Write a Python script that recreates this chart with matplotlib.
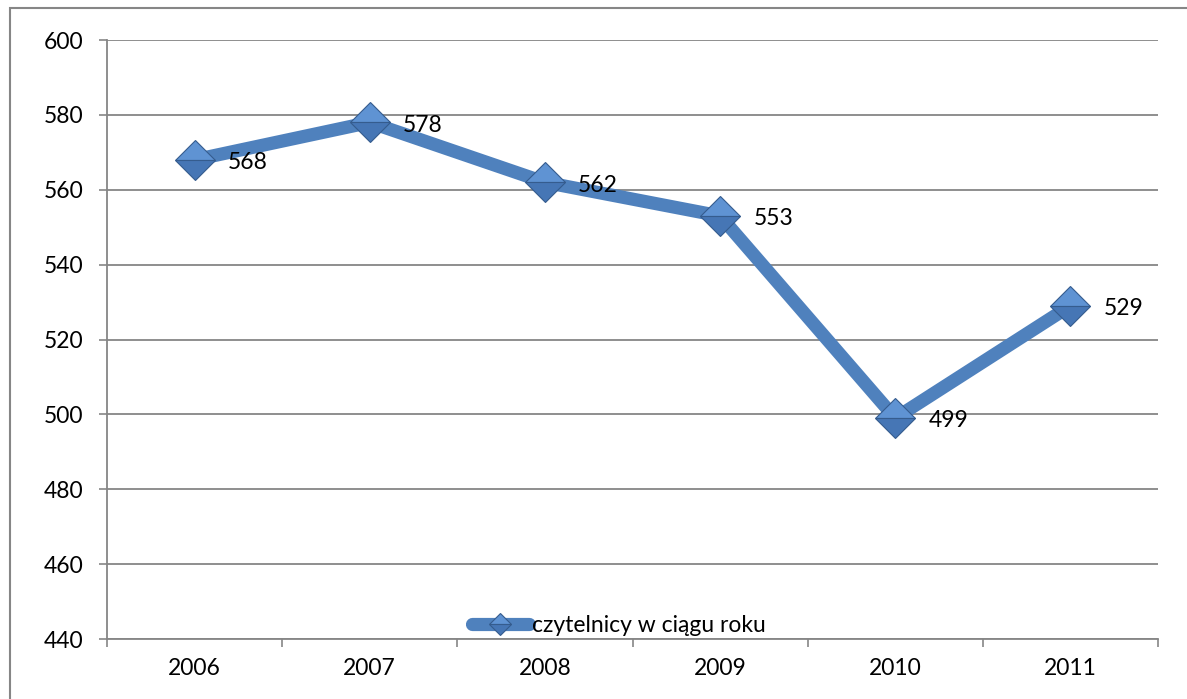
import matplotlib.pyplot as plt
from matplotlib.patches import Rectangle
from matplotlib.ticker import FixedLocator

years = ['2006', '2007', '2008', '2009', '2010', '2011']
readers = [568, 578, 562, 553, 499, 529]
y_ticks = [440, 460, 480, 500, 520, 540, 560, 580, 600]

plt.rcParams['font.family'] = ['Lato', 'DejaVu Sans']

fig = plt.figure(figsize=(11.87, 6.99), dpi=100)
ax = fig.add_axes([107 / 1187, 1 - 639 / 699, 1051 / 1187, 599 / 699])

grey = '#868686'
blue = '#4F81BD'
fs = 16.5

x = list(range(len(years)))
ax.plot(x, readers, color=blue, lw=9.5, solid_capstyle='round', zorder=3,
        marker='D', ms=20, fillstyle='top', markerfacecolor='#5F93D3',
        markerfacecoloralt='#4676B5', markeredgecolor='#355C8E', mew=0.8,
        label='czytelnicy w ciągu roku')

for xi, v in zip(x, readers):
    ax.annotate(str(v), (xi, v), xytext=(24, -2), textcoords='offset points',
                ha='left', va='center', fontsize=fs, zorder=4)

ax.set_xlim(-0.5, len(years) - 0.5)
ax.set_ylim(440, 600)
ax.set_yticks(y_ticks)
ax.set_xticks(x)
ax.set_xticklabels(years)
ax.xaxis.set_minor_locator(FixedLocator([i - 0.5 for i in range(len(years) + 1)]))
ax.tick_params(axis='x', which='major', length=0, pad=14, labelsize=fs)
ax.tick_params(axis='x', which='minor', length=6, width=1.2, color=grey,
               direction='out')
ax.tick_params(axis='y', length=6, width=1.2, color=grey, pad=11,
               labelsize=fs)

ax.grid(axis='y', color=grey, lw=1.3)
ax.set_axisbelow(True)
for side in ('top', 'right'):
    ax.spines[side].set_visible(False)
for side in ('left', 'bottom'):
    ax.spines[side].set_color(grey)
    ax.spines[side].set_linewidth(1.3)

ax.legend(loc='lower center', bbox_to_anchor=(0.487, -0.03), frameon=False,
          fontsize=fs, handlelength=2.5, handletextpad=0.15, markerscale=0.55)

# outer chart frame
fig.patches.append(Rectangle((10 / 1187, -0.05), 1.2, 1 - 8 / 699 + 0.05,
                             transform=fig.transFigure, fill=False,
                             edgecolor=grey, lw=1.5))

fig.savefig('out.png', dpi=100)
